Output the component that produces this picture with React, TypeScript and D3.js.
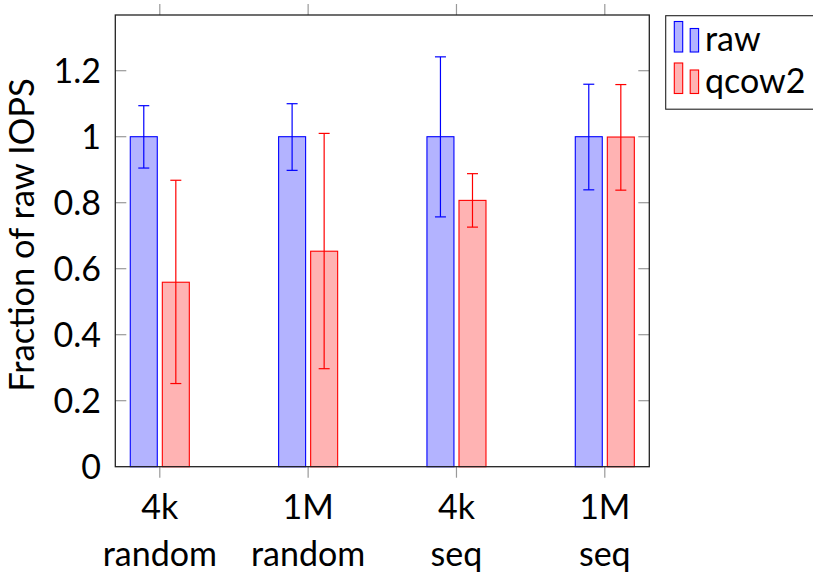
import React from "react";
import * as d3 from "d3";

const categories = ["4k random", "1M random", "4k seq", "1M seq"];
const catLine1 = ["4k", "1M", "4k", "1M"];
const catLine2 = ["random", "random", "seq", "seq"];
const seriesNames = ["raw", "qcow2"];
const rawValues = [1, 1, 1, 1];
const rawErrLow = [0.905, 0.898, 0.757, 0.839];
const rawErrHigh = [1.094, 1.1, 1.242, 1.159];
const qcowValues = [0.559, 0.653, 0.807, 0.999];
const qcowErrLow = [0.252, 0.297, 0.726, 0.838];
const qcowErrHigh = [0.868, 1.01, 0.888, 1.158];
const yTicks = [0, 0.2, 0.4, 0.6, 0.8, 1, 1.2];
const yTickLabels = ["0", "0.2", "0.4", "0.6", "0.8", "1", "1.2"];

const W = 813;
const H = 573;
const left = 115.3;
const right = 649.3;
const top = 15;
const bottom = 466.7;

const FONT = "Lato, 'Liberation Sans', Arial, sans-serif";

export default function App() {
  const x = d3.scaleLinear().domain([-0.3, 3.3]).range([left, right]);
  const y = d3.scaleLinear().domain([0, 1.3688]).range([bottom, top]);
  const barW = 0.182;
  const off = 0.108;
  const series = [
    { name: seriesNames[0], vals: rawValues, lo: rawErrLow, hi: rawErrHigh, fill: "#b3b3ff", stroke: "#0000ff", dx: -off },
    { name: seriesNames[1], vals: qcowValues, lo: qcowErrLow, hi: qcowErrHigh, fill: "#ffb3b3", stroke: "#ff0000", dx: off },
  ];
  const tickColor = "#999";
  const cap = 5.5;
  return (
    <svg width={W} height={H} style={{ position: "absolute", left: 0, top: 0, background: "#fff" }} fontFamily={FONT}>
      <rect x={0} y={0} width={W} height={H} fill="#fff" />
      {series.map((s, si) =>
        s.vals.map((v, i) => {
          const x0 = x(i + s.dx - barW / 2);
          const x1 = x(i + s.dx + barW / 2);
          return (
            <rect key={`b${si}-${i}`} x={x0} y={y(v)} width={x1 - x0} height={y(0) - y(v)} fill={s.fill} stroke={s.stroke} strokeWidth={1.1} />
          );
        })
      )}
      {series.map((s, si) =>
        s.vals.map((v, i) => {
          const cx = x(i + s.dx);
          return (
            <g key={`e${si}-${i}`} stroke={s.stroke} strokeWidth={1.2}>
              <line x1={cx} x2={cx} y1={y(s.lo[i])} y2={y(s.hi[i])} />
              <line x1={cx - cap} x2={cx + cap} y1={y(s.hi[i])} y2={y(s.hi[i])} />
              <line x1={cx - cap} x2={cx + cap} y1={y(s.lo[i])} y2={y(s.lo[i])} />
            </g>
          );
        })
      )}
      {yTicks.map((t, i) => (
        <g key={`yt${i}`}>
          {i > 0 && <line x1={left} x2={left + 11} y1={y(t)} y2={y(t)} stroke={tickColor} strokeWidth={1.2} />}
          {i > 0 && <line x1={right - 11} x2={right} y1={y(t)} y2={y(t)} stroke={tickColor} strokeWidth={1.2} />}
          <text x={101} y={y(t) + 12} textAnchor="end" fontSize={34} fill="#000">
            {yTickLabels[i]}
          </text>
        </g>
      ))}
      {categories.map((c, i) => (
        <g key={`xt${i}`}>
          <line x1={x(i)} x2={x(i)} y1={top - 11} y2={top} stroke={tickColor} strokeWidth={1.2} />
          <line x1={x(i)} x2={x(i)} y1={bottom} y2={bottom + 11} stroke={tickColor} strokeWidth={1.2} />
          <text x={x(i)} y={519} textAnchor="middle" fontSize={34} fill="#000">
            {catLine1[i]}
          </text>
          <text x={x(i)} y={566} textAnchor="middle" fontSize={34} fill="#000">
            {catLine2[i]}
          </text>
        </g>
      ))}
      <rect x={left} y={top} width={right - left} height={bottom - top} fill="none" stroke="#222" strokeWidth={1.3} />
      <text transform={`translate(34,235) rotate(-90)`} textAnchor="middle" fontSize={34.5} fill="#000">
        Fraction of raw IOPS
      </text>
      <rect x={665.7} y={15.7} width={170} height={93.5} fill="#fff" stroke="#222" strokeWidth={1.1} />
      {series.map((s, si) => {
        const base = 51 + si * 41.5;
        return (
          <g key={`lg${si}`}>
            <rect x={674.3} y={base - 29.5} width={8.4} height={30.5} fill={s.fill} stroke={s.stroke} strokeWidth={1.1} />
            <rect x={690.2} y={base - 22.5} width={8.4} height={23.5} fill={s.fill} stroke={s.stroke} strokeWidth={1.1} />
            <text x={705} y={base} fontSize={34} fill="#000">
              {s.name}
            </text>
          </g>
        );
      })}
    </svg>
  );
}
